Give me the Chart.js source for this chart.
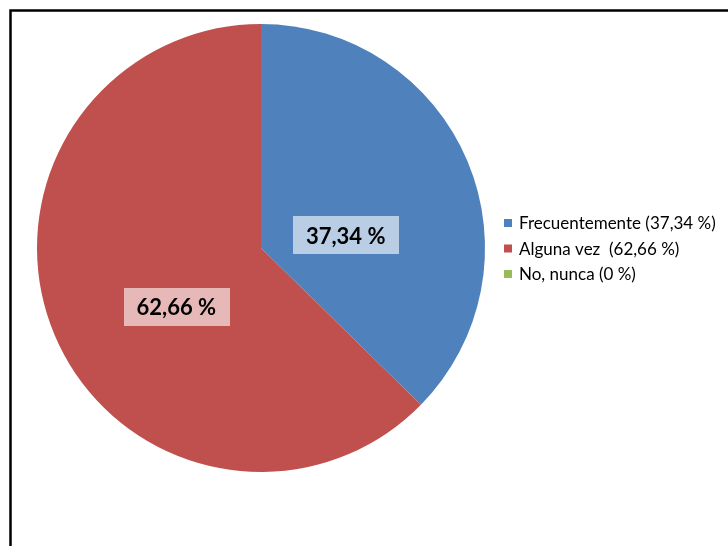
<!DOCTYPE html>
<html>
<head>
<meta charset="utf-8">
<script src="https://cdn.jsdelivr.net/npm/chart.js@4"></script>
<style>
  html, body { margin: 0; padding: 0; background: #fff; }
  #wrap { position: relative; width: 728px; height: 546px; }
</style>
</head>
<body>
<div id="wrap"><canvas id="pieChart" width="728" height="546"></canvas></div>
<script>
const categories = ['Frecuentemente (37,34 %)', 'Alguna vez  (62,66 %)', 'No, nunca (0 %)'];
const values = [37.34, 62.66, 0];
const valueLabels = ['37,34 %', '62,66 %', ''];
const colors = ['#4f81bd', '#c0504d', '#9bbb59'];
const labelBoxColors = ['#b9cde5', '#e6b9b8', '#d7e4bd'];

// black frame round the chart, cut off at right and bottom
const framePlugin = {
    id: 'frame',
    beforeDraw(chart) {
        const c = chart.ctx;
        c.save();
        c.strokeStyle = '#000';
        c.lineWidth = 2.5;
        c.strokeRect(10.5, 10.5, 800, 600);
        c.restore();
    }
};

// data labels in boxes on the slices
const sliceLabels = {
    id: 'sliceLabels',
    afterDatasetsDraw(chart) {
        const c = chart.ctx;
        const meta = chart.getDatasetMeta(0);
        c.save();
        c.font = 'bold 22px Lato';
        c.textBaseline = 'middle';
        c.textAlign = 'center';
        meta.data.forEach(function (arc, i) {
            if (!values[i]) return;
            const mid = (arc.startAngle + arc.endAngle) / 2;
            const r = arc.outerRadius * 0.41;
            const x = arc.x + Math.cos(mid) * r;
            const y = arc.y + Math.sin(mid) * r + 23;
            const w = c.measureText(valueLabels[i]).width + 26;
            const h = 38;
            c.fillStyle = labelBoxColors[i];
            c.fillRect(Math.round(x - w / 2), Math.round(y - h / 2), Math.round(w), h);
            c.fillStyle = '#000';
            c.fillText(valueLabels[i], x, y + 1);
        });
        c.restore();
    }
};

// legend on the right
const sideLegend = {
    id: 'sideLegend',
    afterDraw(chart) {
        const c = chart.ctx;
        c.save();
        c.font = '17px Lato';
        c.textBaseline = 'middle';
        categories.forEach(function (label, i) {
            const y = 223 + i * 25.5;
            c.fillStyle = colors[i];
            c.fillRect(504, y - 4, 8, 8);
            c.fillStyle = '#000';
            c.fillText(label, 519, y + 1);
        });
        c.restore();
    }
};

const ctx = document.getElementById('pieChart').getContext('2d');
const pieChart = new Chart(ctx, {
    type: 'pie',
    data: {
        labels: categories,
        datasets: [{
            data: values,
            backgroundColor: colors,
            borderWidth: 0
        }]
    },
    options: {
        responsive: false,
        animation: false,
        layout: { padding: { left: 37, top: 24, right: 243, bottom: 74 } },
        plugins: {
            legend: { display: false },
            tooltip: { enabled: false }
        }
    },
    plugins: [framePlugin, sliceLabels, sideLegend]
});
</script>
</body>
</html>
